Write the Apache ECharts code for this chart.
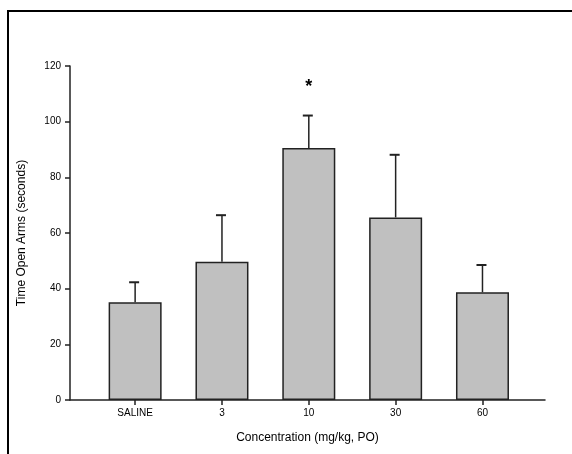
<!DOCTYPE html>
<html>
<head>
<meta charset="utf-8">
<script src="https://cdn.jsdelivr.net/npm/echarts@6/dist/echarts.min.js"></script>
<style>
  html, body { margin: 0; padding: 0; background: #fff; }
  #wrap { position: relative; width: 572px; height: 454px; overflow: hidden; }
  #chart { position: absolute; left: 0; top: 0; width: 572px; height: 454px; }
  #frame { position: absolute; left: 7px; top: 10px; width: 700px; height: 600px;
           border-left: 2px solid #000; border-top: 2px solid #000; pointer-events: none; }
</style>
</head>
<body>
<div id="wrap">
  <div id="chart"></div>
  <div id="frame"></div>
</div>
<script>
// Dose groups and mean time spent in the open arms (s), with upper SEM bars
const categories = ['SALINE', '3', '10', '30', '60'];
const meanTime = [35.1, 49.7, 90.5, 65.6, 38.7];
const errorTop = [42.3, 66.4, 102.2, 88.1, 48.5];
const significance = ['', '', '*', '', ''];
const yTicks = [0, 20, 40, 60, 80, 100, 120];

const positions = categories.map((_, i) => i);
const barData = meanTime.map((v, i) => [i, v]);
const errData = meanTime.map((v, i) => [i, v, errorTop[i], significance[i]]);

const font = '"Liberation Sans", Arial, sans-serif';
const ink = '#222';

const chart = echarts.init(document.getElementById('chart'), null, { renderer: 'canvas' });
chart.setOption({
  backgroundColor: '#fff',
  animation: false,
  grid: { left: 70, right: 27, top: 66, bottom: 54, containLabel: false },
  xAxis: {
    type: 'value',
    min: -0.75,
    max: 4.72,
    name: 'Concentration (mg/kg, PO)',
    nameLocation: 'middle',
    nameGap: 32,
    nameTextStyle: { fontFamily: font, fontSize: 12, color: '#000' },
    axisLine: { show: true, onZero: false, lineStyle: { color: ink, width: 1.5 } },
    axisTick: { show: true, length: 5, lineStyle: { color: ink, width: 1.5 }, customValues: positions },
    axisLabel: {
      customValues: positions,
      formatter: v => categories[Math.round(v)],
      fontFamily: font, fontSize: 10, color: '#000', margin: 8
    },
    splitLine: { show: false }
  },
  yAxis: {
    type: 'value',
    min: yTicks[0],
    max: yTicks[yTicks.length - 1],
    interval: 20,
    name: 'Time Open Arms (seconds)',
    nameLocation: 'middle',
    nameGap: 42,
    nameTextStyle: { fontFamily: font, fontSize: 12, color: '#000' },
    axisLine: { show: true, onZero: false, lineStyle: { color: ink, width: 1.5 } },
    axisTick: { show: true, length: 5, lineStyle: { color: ink, width: 1.5 } },
    axisLabel: { fontFamily: font, fontSize: 10, color: '#000', margin: 9 },
    splitLine: { show: false }
  },
  series: [
    {
      type: 'bar',
      data: barData,
      barWidth: 53,
      itemStyle: { color: '#c0c0c0', borderColor: ink, borderWidth: 1.5 },
      z: 2
    },
    {
      type: 'custom',
      data: errData,
      encode: { x: 0, y: [1, 2] },
      z: 3,
      renderItem: function (params, api) {
        const x = api.value(0);
        const base = api.coord([x, api.value(1)]);
        const top = api.coord([x, api.value(2)]);
        const mark = api.value(3);
        const children = [
          { type: 'line', shape: { x1: base[0], y1: base[1], x2: top[0], y2: top[1] },
            style: { stroke: ink, lineWidth: 1.5 } },
          { type: 'line', shape: { x1: top[0] - 6, y1: top[1], x2: top[0] + 4, y2: top[1] },
            style: { stroke: ink, lineWidth: 2 } }
        ];
        if (mark) {
          children.push({ type: 'text', x: top[0], y: top[1] - 29,
            style: { text: mark, fill: '#000', font: 'bold 18px ' + font,
                     align: 'center', verticalAlign: 'middle' } });
        }
        return { type: 'group', children: children };
      }
    }
  ]
});
</script>
</body>
</html>
